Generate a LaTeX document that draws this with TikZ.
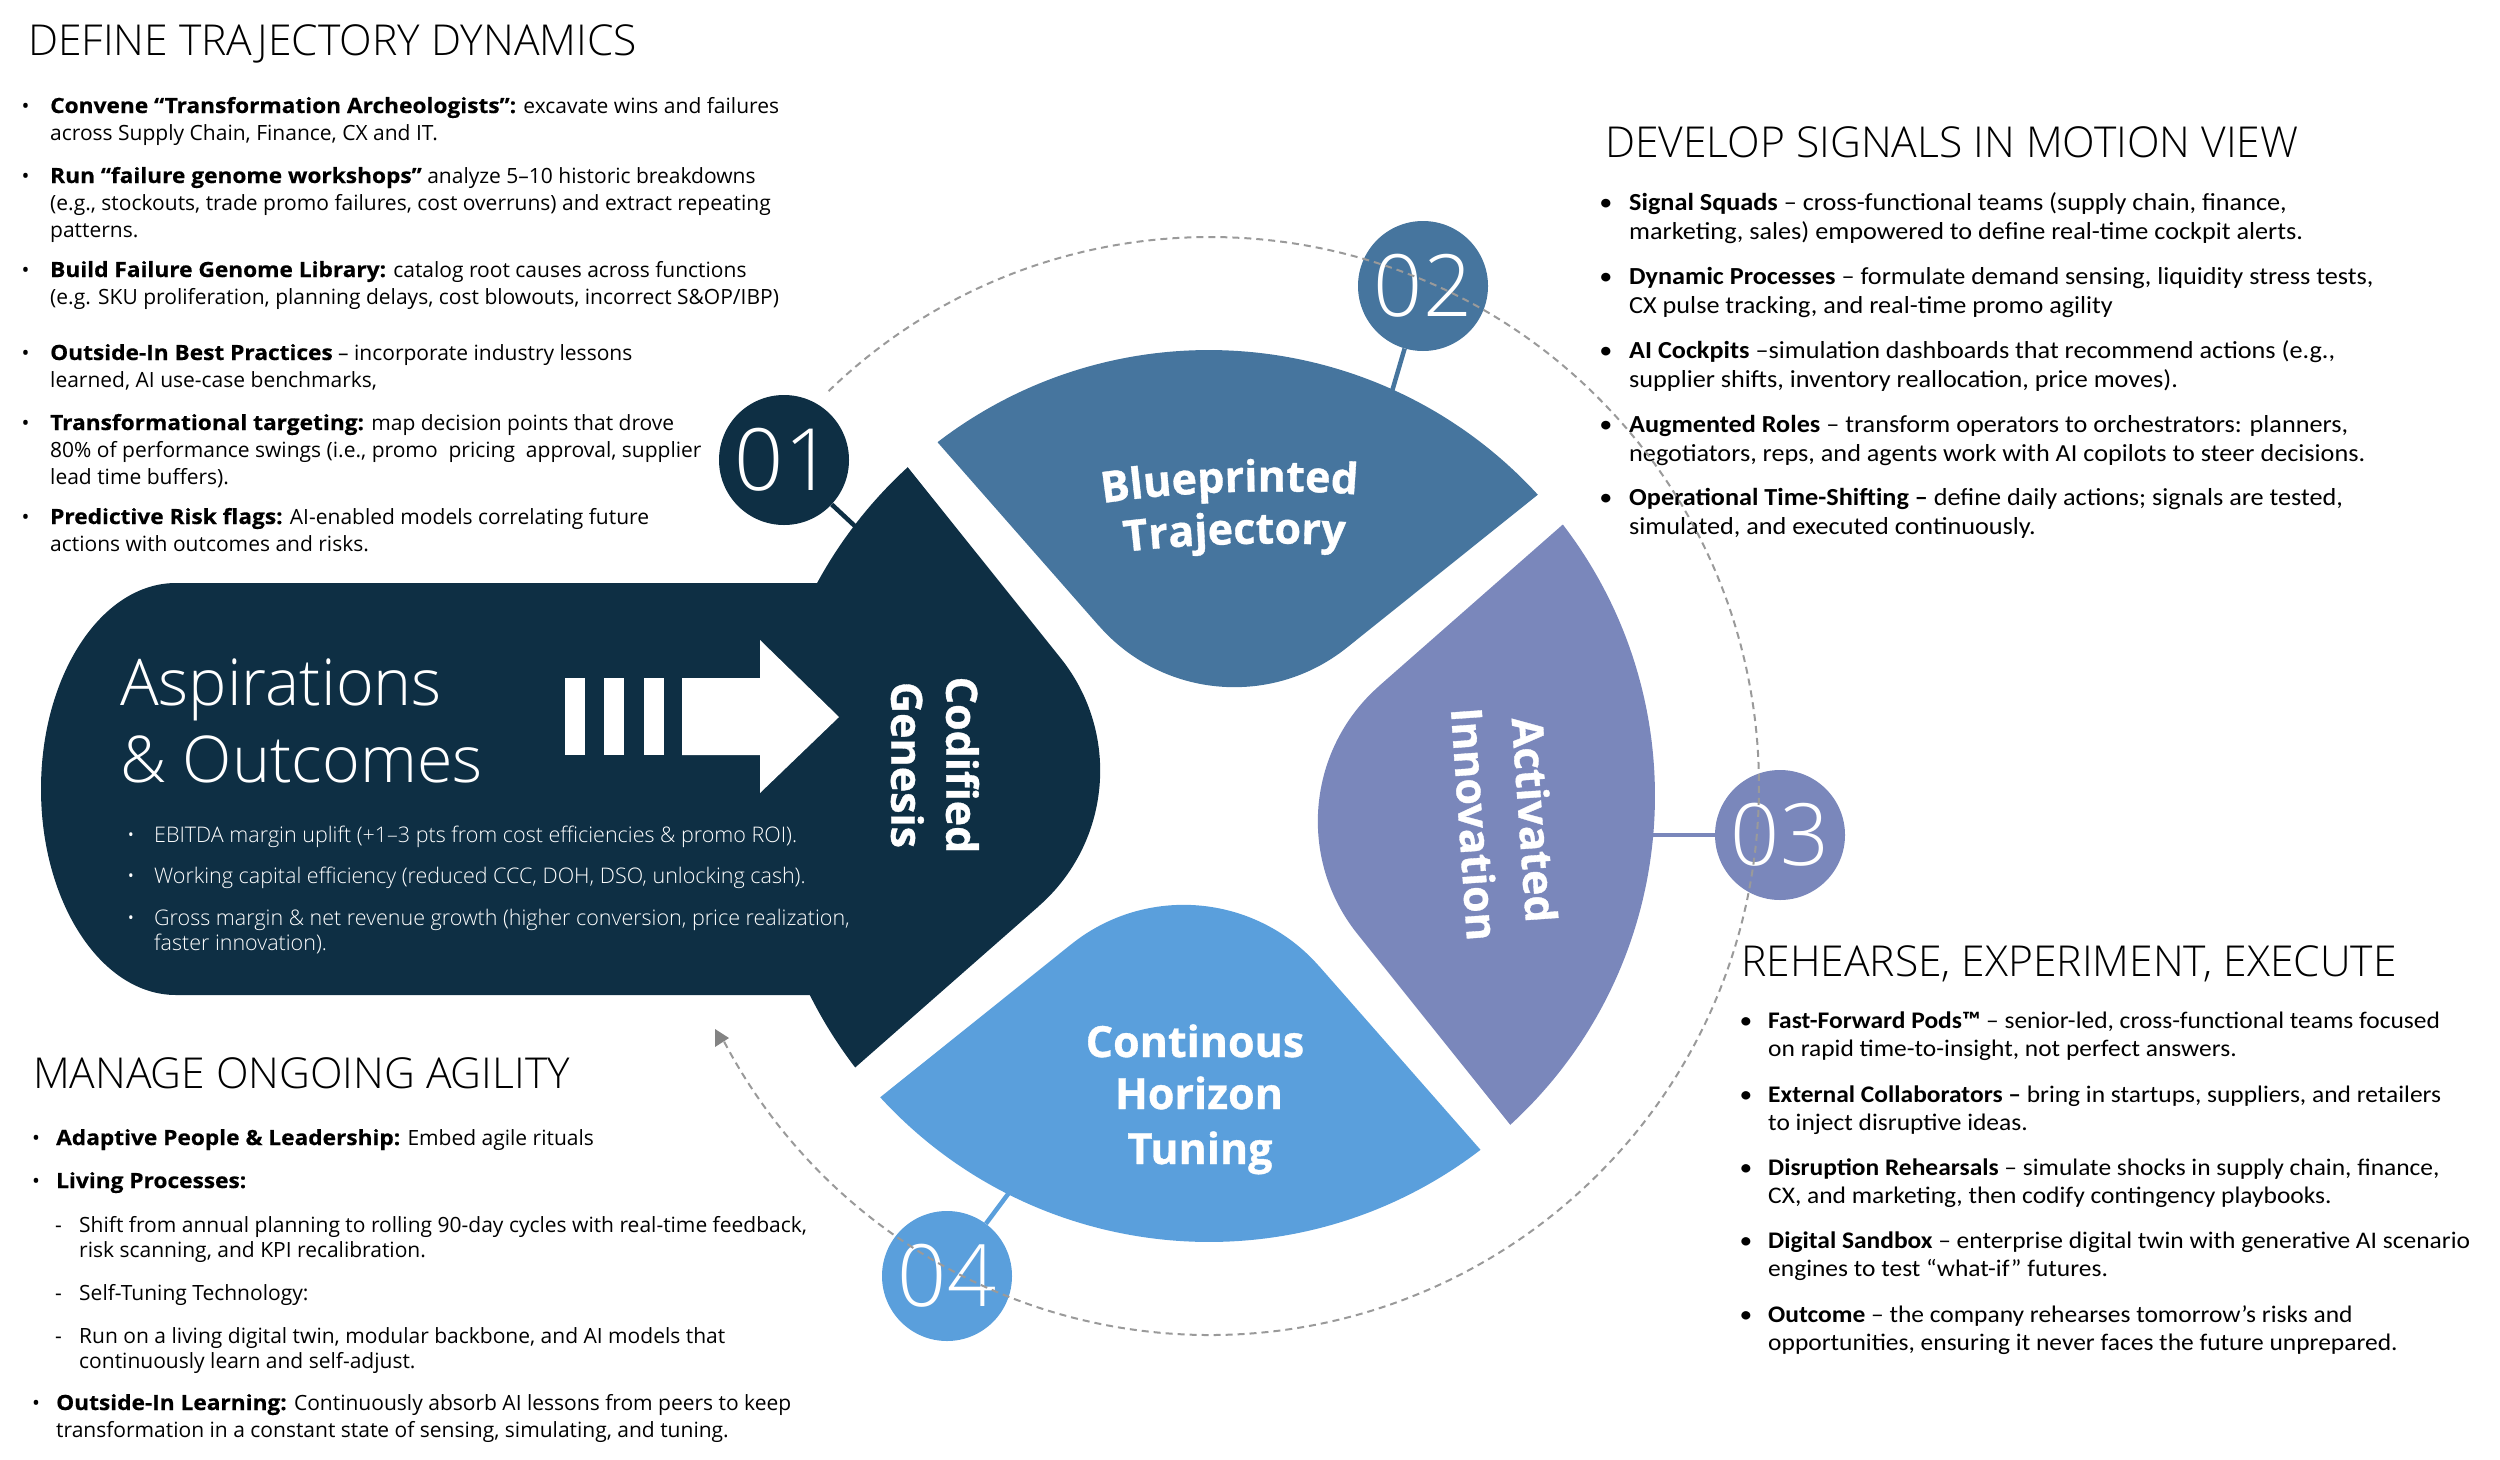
\documentclass[tikz,border=0pt]{standalone}
\usepackage{fontspec}
\usetikzlibrary{decorations.text}
\newfontfamily\osans{Open Sans}[BoldFeatures={FakeStretch=1.08, FakeBold=0.5}]
\newfontfamily\carl{Carlito}[FakeStretch=1.07]
\IfFontExistsTF{Open Sans Light}{\newfontfamily\lightf{Open Sans Light}}{%
  \IfFontExistsTF{FiraSans-Light.otf}{\newfontfamily\lightf{FiraSans-Light.otf}}{\newfontfamily\lightf{Open Sans}}}
\newfontfamily\xboldfam{Open Sans}[BoldFeatures={FakeBold=0.8}]
\newcommand\xbold{\xboldfam\bfseries}
\definecolor{navy}{HTML}{0E2F44}
\definecolor{steel}{HTML}{46759E}
\definecolor{lav}{HTML}{7A87BB}
\definecolor{sky}{HTML}{5A9FDC}
\definecolor{dashgray}{HTML}{9A9A9A}
\newcommand\petfont{\xbold\fontsize{43}{52}\selectfont}
\newcommand\bitem[6]{%
  \node[#5, anchor=base] (#1b) at (#2,#4) {\textbullet};
  \node[#5, anchor=base west] (#1) at (#3,#4) {\begin{tabular}[t]{@{}l@{}}#6\end{tabular}};}
\newcommand\ditem[5]{%
  \node[lbm, anchor=base west] (#1b) at (#2,#4) {-};
  \node[lbm, anchor=base west] (#1) at (#3,#4) {\begin{tabular}[t]{@{}l@{}}#5\end{tabular}};}
\newcommand\petal[2]{%
  \begin{scope}[shift={(1209,796)}, rotate=#1]
  \fill[#2] (159.8,-124.4) -- (328.8,-301.3) arc[start angle=-42.5, end angle=42.5, radius=446]
     -- (159.8,124.4) arc[start angle=136.3, end angle=223.7, radius=180] -- cycle;
  \end{scope}}
\begin{document}
\begin{tikzpicture}[x=1pt,y=-1pt,
  ttl/.style={anchor=base west, inner sep=0, font=\lightf\fontsize{42.6}{50}\selectfont, text=black},
  lb/.style={inner sep=0, font=\osans\fontsize{21}{27}\selectfont, text=black},
  lbm/.style={inner sep=0, font=\osans\fontsize{21}{25}\selectfont, text=black},
  rb/.style={inner sep=0, font=\carl\fontsize{24.5}{29}\selectfont, text=black},
  rbb/.style={inner sep=0, font=\carl\fontsize{23.8}{28.5}\selectfont, text=black},
  wb/.style={inner sep=0, font=\lightf\fontsize{21.5}{25}\selectfont, text=white},
  numc/.style={circle, minimum size=130, inner sep=0, text=white, font=\lightf\fontsize{86}{86}\selectfont},
  conn/.style={line width=4.5},
  petlab/.style={inner sep=0, text=white, font=\petfont}]
\useasboundingbox (0,0) rectangle (2500,1459);

% ---------- titles ----------
\node[ttl] (t1) at (28,55.5) {DEFINE TRAJECTORY DYNAMICS};
\node[ttl] (t2) at (1605,157) {DEVELOP SIGNALS IN MOTION VIEW};
\node[ttl] (t3) at (1741,976) {REHEARSE, EXPERIMENT, EXECUTE};
\node[ttl] (t4) at (33,1088) {MANAGE ONGOING AGILITY};

% ---------- top-left list ----------
\bitem{a1}{25.5}{50}{113}{lb}{\textbf{Convene “Transformation Archeologists”:} excavate wins and failures\\across Supply Chain, Finance, CX and IT.}
\bitem{a2}{25.5}{50}{183}{lb}{\textbf{Run “failure genome workshops”} analyze 5–10 historic breakdowns\\(e.g., stockouts, trade promo failures, cost overruns) and extract repeating\\patterns.}
\bitem{a3}{25.5}{50}{277}{lb}{\textbf{Build Failure Genome Library:} catalog root causes across functions\\(e.g. SKU proliferation, planning delays, cost blowouts, incorrect S\&OP/IBP)}
\bitem{a4}{25.5}{50}{360}{lb}{\textbf{Outside-In Best Practices} – incorporate industry lessons\\learned, AI use-case benchmarks,}
\bitem{a5}{25.5}{50}{430}{lb}{\textbf{Transformational targeting:} map decision points that drove\\80\% of performance swings (i.e., promo\ \ pricing\ \ approval, supplier\\lead time buffers).}
\bitem{a6}{25.5}{50}{524}{lb}{\textbf{Predictive Risk flags:} AI-enabled models correlating future\\actions with outcomes and risks.}

% ---------- top-right list ----------
\bitem{b1}{1606}{1629}{210}{rb}{\textbf{Signal Squads} – cross-functional teams (supply chain, finance,\\marketing, sales) empowered to define real-time cockpit alerts.}
\bitem{b2}{1606}{1629}{284}{rb}{\textbf{Dynamic Processes} – formulate demand sensing, liquidity stress tests,\\CX pulse tracking, and real-time promo agility}
\bitem{b3}{1606}{1629}{358}{rb}{\textbf{AI Cockpits} –simulation dashboards that recommend actions (e.g.,\\supplier shifts, inventory reallocation, price moves).}
\bitem{b4}{1606}{1629}{432}{rb}{\textbf{Augmented Roles} – transform operators to orchestrators: planners,\\negotiators, reps, and agents work with AI copilots to steer decisions.}
\bitem{b5}{1606}{1629}{505}{rb}{\textbf{Operational Time-Shifting –} define daily actions; signals are tested,\\simulated, and executed continuously.}

% ---------- bottom-right list ----------
\bitem{c1}{1746}{1768}{1028}{rbb}{\textbf{Fast-Forward Pods™} – senior-led, cross-functional teams focused\\on rapid time-to-insight, not perfect answers.}
\bitem{c2}{1746}{1768}{1102}{rbb}{\textbf{External Collaborators –} bring in startups, suppliers, and retailers\\to inject disruptive ideas.}
\bitem{c3}{1746}{1768}{1175}{rbb}{\textbf{Disruption Rehearsals} – simulate shocks in supply chain, finance,\\CX, and marketing, then codify contingency playbooks.}
\bitem{c4}{1746}{1768}{1248}{rbb}{\textbf{Digital Sandbox} – enterprise digital twin with generative AI scenario\\engines to test “what-if” futures.}
\bitem{c5}{1746}{1768}{1322}{rbb}{\textbf{Outcome} – the company rehearses tomorrow’s risks and\\opportunities, ensuring it never faces the future unprepared.}

% ---------- bottom-left list ----------
\bitem{d1}{36}{56}{1145}{lbm}{\textbf{Adaptive People \& Leadership:} Embed agile rituals}
\bitem{d2}{36}{56}{1188}{lbm}{\textbf{Living Processes:}}
\ditem{d3}{55}{79}{1232}{Shift from annual planning to rolling 90-day cycles with real-time feedback,\\risk scanning, and KPI recalibration.}
\ditem{d4}{55}{79}{1300}{Self-Tuning Technology:}
\ditem{d5}{55}{79}{1343}{Run on a living digital twin, modular backbone, and AI models that\\continuously learn and self-adjust.}
\bitem{d6}{36}{56}{1410}{lb}{\textbf{Outside-In Learning:} Continuously absorb AI lessons from peers to keep\\transformation in a constant state of sensing, simulating, and tuning.}

% ---------- number circles and connectors ----------
\node[numc, fill=navy] (n1) at (784,460) {01};
\node[numc, fill=steel] (n2) at (1423,286) {02};
\node[numc, fill=lav] (n3) at (1780,835) {03};
\node[numc, fill=sky] (n4) at (947,1276) {04};
\coordinate (p1) at (872,542);
\coordinate (p2) at (1388,405);
\coordinate (p3) at (1640,835);
\coordinate (p4) at (1017,1182);
\draw[conn, navy] (n1) -- (p1);
\draw[conn, steel] (n2) -- (p2);
\draw[conn, lav] (n3) -- (p3);
\draw[conn, sky] (n4) -- (p4);

% ---------- main navy shape ----------
\fill[navy] (176,583) -- (840,583) -- (840,995) -- (176,995)
   arc[start angle=90, end angle=270, x radius=135, y radius=206] -- cycle;
\petal{175}{navy}
\petal{85}{steel}
\petal{-5}{lav}
\petal{265}{sky}

% white arrow
\fill[white] (565,678) rectangle (585,755);
\fill[white] (604,678) rectangle (624,755);
\fill[white] (644,678) rectangle (664,755);
\fill[white] (682,678) -- (760,678) -- (760,640) -- (839,717) -- (760,793) -- (760,755) -- (682,755) -- cycle;

\node[anchor=base west, inner sep=0, text=white, font=\lightf\fontsize{64.5}{77}\selectfont] (asp) at (120,705)
  {\begin{tabular}[t]{@{}l@{}}Aspirations\\\& Outcomes\end{tabular}};
\bitem{e1}{131}{154}{842}{wb}{EBITDA margin uplift (+1–3 pts from cost efficiencies \& promo ROI).}
\bitem{e2}{131}{154}{883}{wb}{Working capital efficiency (reduced CCC, DOH, DSO, unlocking cash).}
\bitem{e3}{131}{154}{925}{wb}{Gross margin \& net revenue growth (higher conversion, price realization,\\faster innovation).}

% ---------- petal labels ----------
\node[petlab, rotate=-90, align=center, font=\xbold\fontsize{43}{55}\selectfont] (cg) at (935,765) {Codified\\Genesis};
\node[petlab, rotate=-86, align=center, font=\xbold\fontsize{43}{60}\selectfont] (ai) at (1505,822) {Activated\\Innovation};
\path[decorate, decoration={text along path, text align=center, text color=white, text={|\petfont|Blueprinted}}]
  (1080,507) .. controls (1160,492) and (1290,486) .. (1380,497);
\path[decorate, decoration={text along path, text align=center, text color=white, text={|\petfont|Trajectory}}]
  (1095,556) .. controls (1175,543) and (1295,540) .. (1375,548);
\node[petlab, anchor=base] (ct) at (1195,1057) {Continous};
\node[petlab, anchor=base] (hz) at (1199,1109) {Horizon};
\node[petlab, anchor=base] (tn) at (1200,1164) {Tuning};

% ---------- dashed cycle ----------
\draw[dashgray, line width=2, dash pattern=on 7 off 5] (828.6,391.1) arc[start angle=-134, end angle=153, radius=549];
\fill[dashgray!85!black] (715,1029) -- (729,1038) -- (715,1047) -- cycle;
\end{tikzpicture}
\end{document}
